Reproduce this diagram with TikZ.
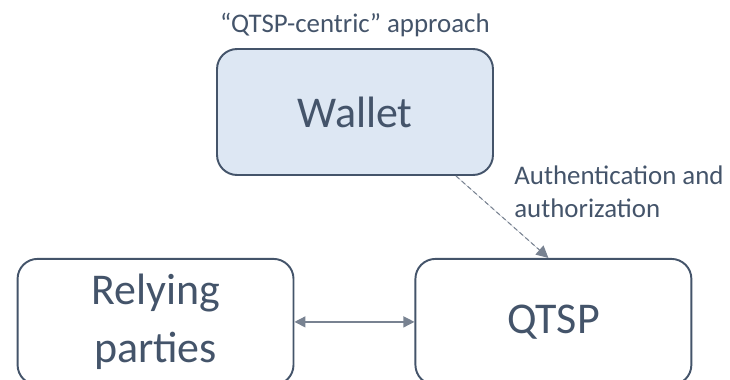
\documentclass[tikz,border=0pt]{standalone}
\usepackage{fontspec}
\setmainfont{Carlito}
\usepackage{tikz}
\usetikzlibrary{arrows.meta,positioning}
\definecolor{slatetext}{RGB}{68,84,106}
\definecolor{walletfill}{RGB}{221,231,243}
\definecolor{linkgray}{RGB}{120,130,145}

\begin{document}
\begin{tikzpicture}[
  x=0.02cm, y=-0.02cm,
  actorbox/.style={
    rectangle, rounded corners=0.4cm,
    draw=slatetext, line width=1.1pt,
    minimum width=5.52cm, minimum height=2.52cm,
    text width=5.2cm, align=center,
    font=\fontsize{25}{33}\selectfont, text=slatetext, inner sep=0pt
  },
  walletbox/.style={actorbox, fill=walletfill},
  notetext/.style={font=\fontsize{15.3}{19.3}\selectfont, text=slatetext, inner sep=0pt},
  darr/.style={{Triangle[length=0.22cm,width=0.22cm]}-{Triangle[length=0.22cm,width=0.22cm]},
    line width=0.75pt, draw=linkgray, fill=slatetext},
  authlink/.style={-{Triangle[length=0.24cm,width=0.24cm]}, line width=0.6pt,
    draw=linkgray, fill=slatetext, dash pattern=on 2.6pt off 1.8pt}
]

\useasboundingbox (0,0) rectangle (730,379);
\clip (0,0) rectangle (730,379);

\node[walletbox] (wallet) at (355,112) {Wallet};

\node[notetext, above=0.21cm of wallet] (title) {“QTSP-centric” approach};

\node[actorbox, below=1.64cm of wallet, xshift=-3.99cm] (relying) {Relying\\parties};
\node[actorbox, right=2.4cm of relying] (qtsp) {QTSP};

\draw[darr] (relying) -- (qtsp);
\draw[authlink] ([xshift=-0.76cm]wallet.south east) -- ([xshift=-0.1cm]qtsp.north);

\node[notetext, align=left, anchor=north west] (authnote) at (514,165)
  {Authentication and\\authorization};

\end{tikzpicture}
\end{document}
